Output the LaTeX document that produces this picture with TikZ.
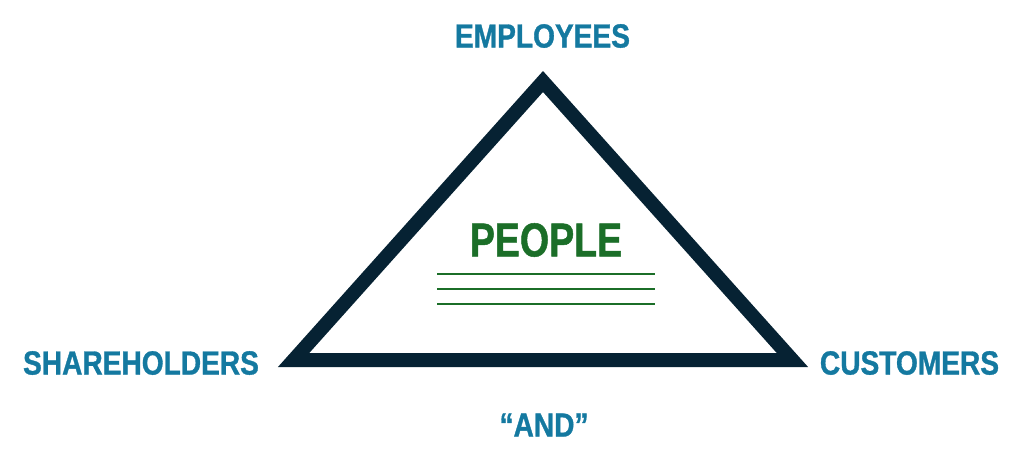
\documentclass[tikz,border=0pt]{standalone}
\usepackage{fontspec}
\usepackage{tikz}
\newfontfamily\labelfont[FakeStretch=0.84, FakeBold=1]{Liberation Sans}
\newfontfamily\peoplefont[FakeStretch=0.79, FakeBold=1]{Liberation Sans}
\definecolor{navy}{RGB}{6, 34, 51}
\definecolor{teal}{RGB}{20, 121, 160}
\definecolor{leaf}{RGB}{27, 110, 40}

\begin{document}
\begin{tikzpicture}[%
        x=0.025cm, y=-0.025cm,
        edge/.style={draw=navy, line width=0.35cm, line join=miter},
        stake/.style={text=teal, inner sep=0pt, font=\labelfont\bfseries\fontsize{23.8}{24}\selectfont},
        core/.style={text=leaf, inner sep=0pt, font=\peoplefont\bfseries\fontsize{33.8}{34}\selectfont},
        rule/.style={draw=leaf, line width=0.05cm}
        ]
        \useasboundingbox (0,0) rectangle (1024,469);
        \coordinate (apex) at (543,81.5);
        \coordinate (right) at (792.4,360);
        \coordinate (left) at (293.6,360);
        \draw[edge] (apex) -- (right) -- (left) -- cycle;
        \node[stake] (emp) at (542.5,36) {EMPLOYEES};
        \node[stake] (sha) at (141,363) {SHAREHOLDERS};
        \node[stake] (cus) at (909.5,363) {CUSTOMERS};
        \node[stake] (and) at (544,425) {“AND”};
        \node[core] (ppl) at (546,240) {PEOPLE};
        \foreach \y/\n in {274/a, 289/b, 303.5/c}{
            \coordinate (r\n w) at (437,\y);
            \coordinate (r\n e) at (655,\y);
            \draw[rule] (r\n w) -- (r\n e);
        }
    \end{tikzpicture}
\end{document}
